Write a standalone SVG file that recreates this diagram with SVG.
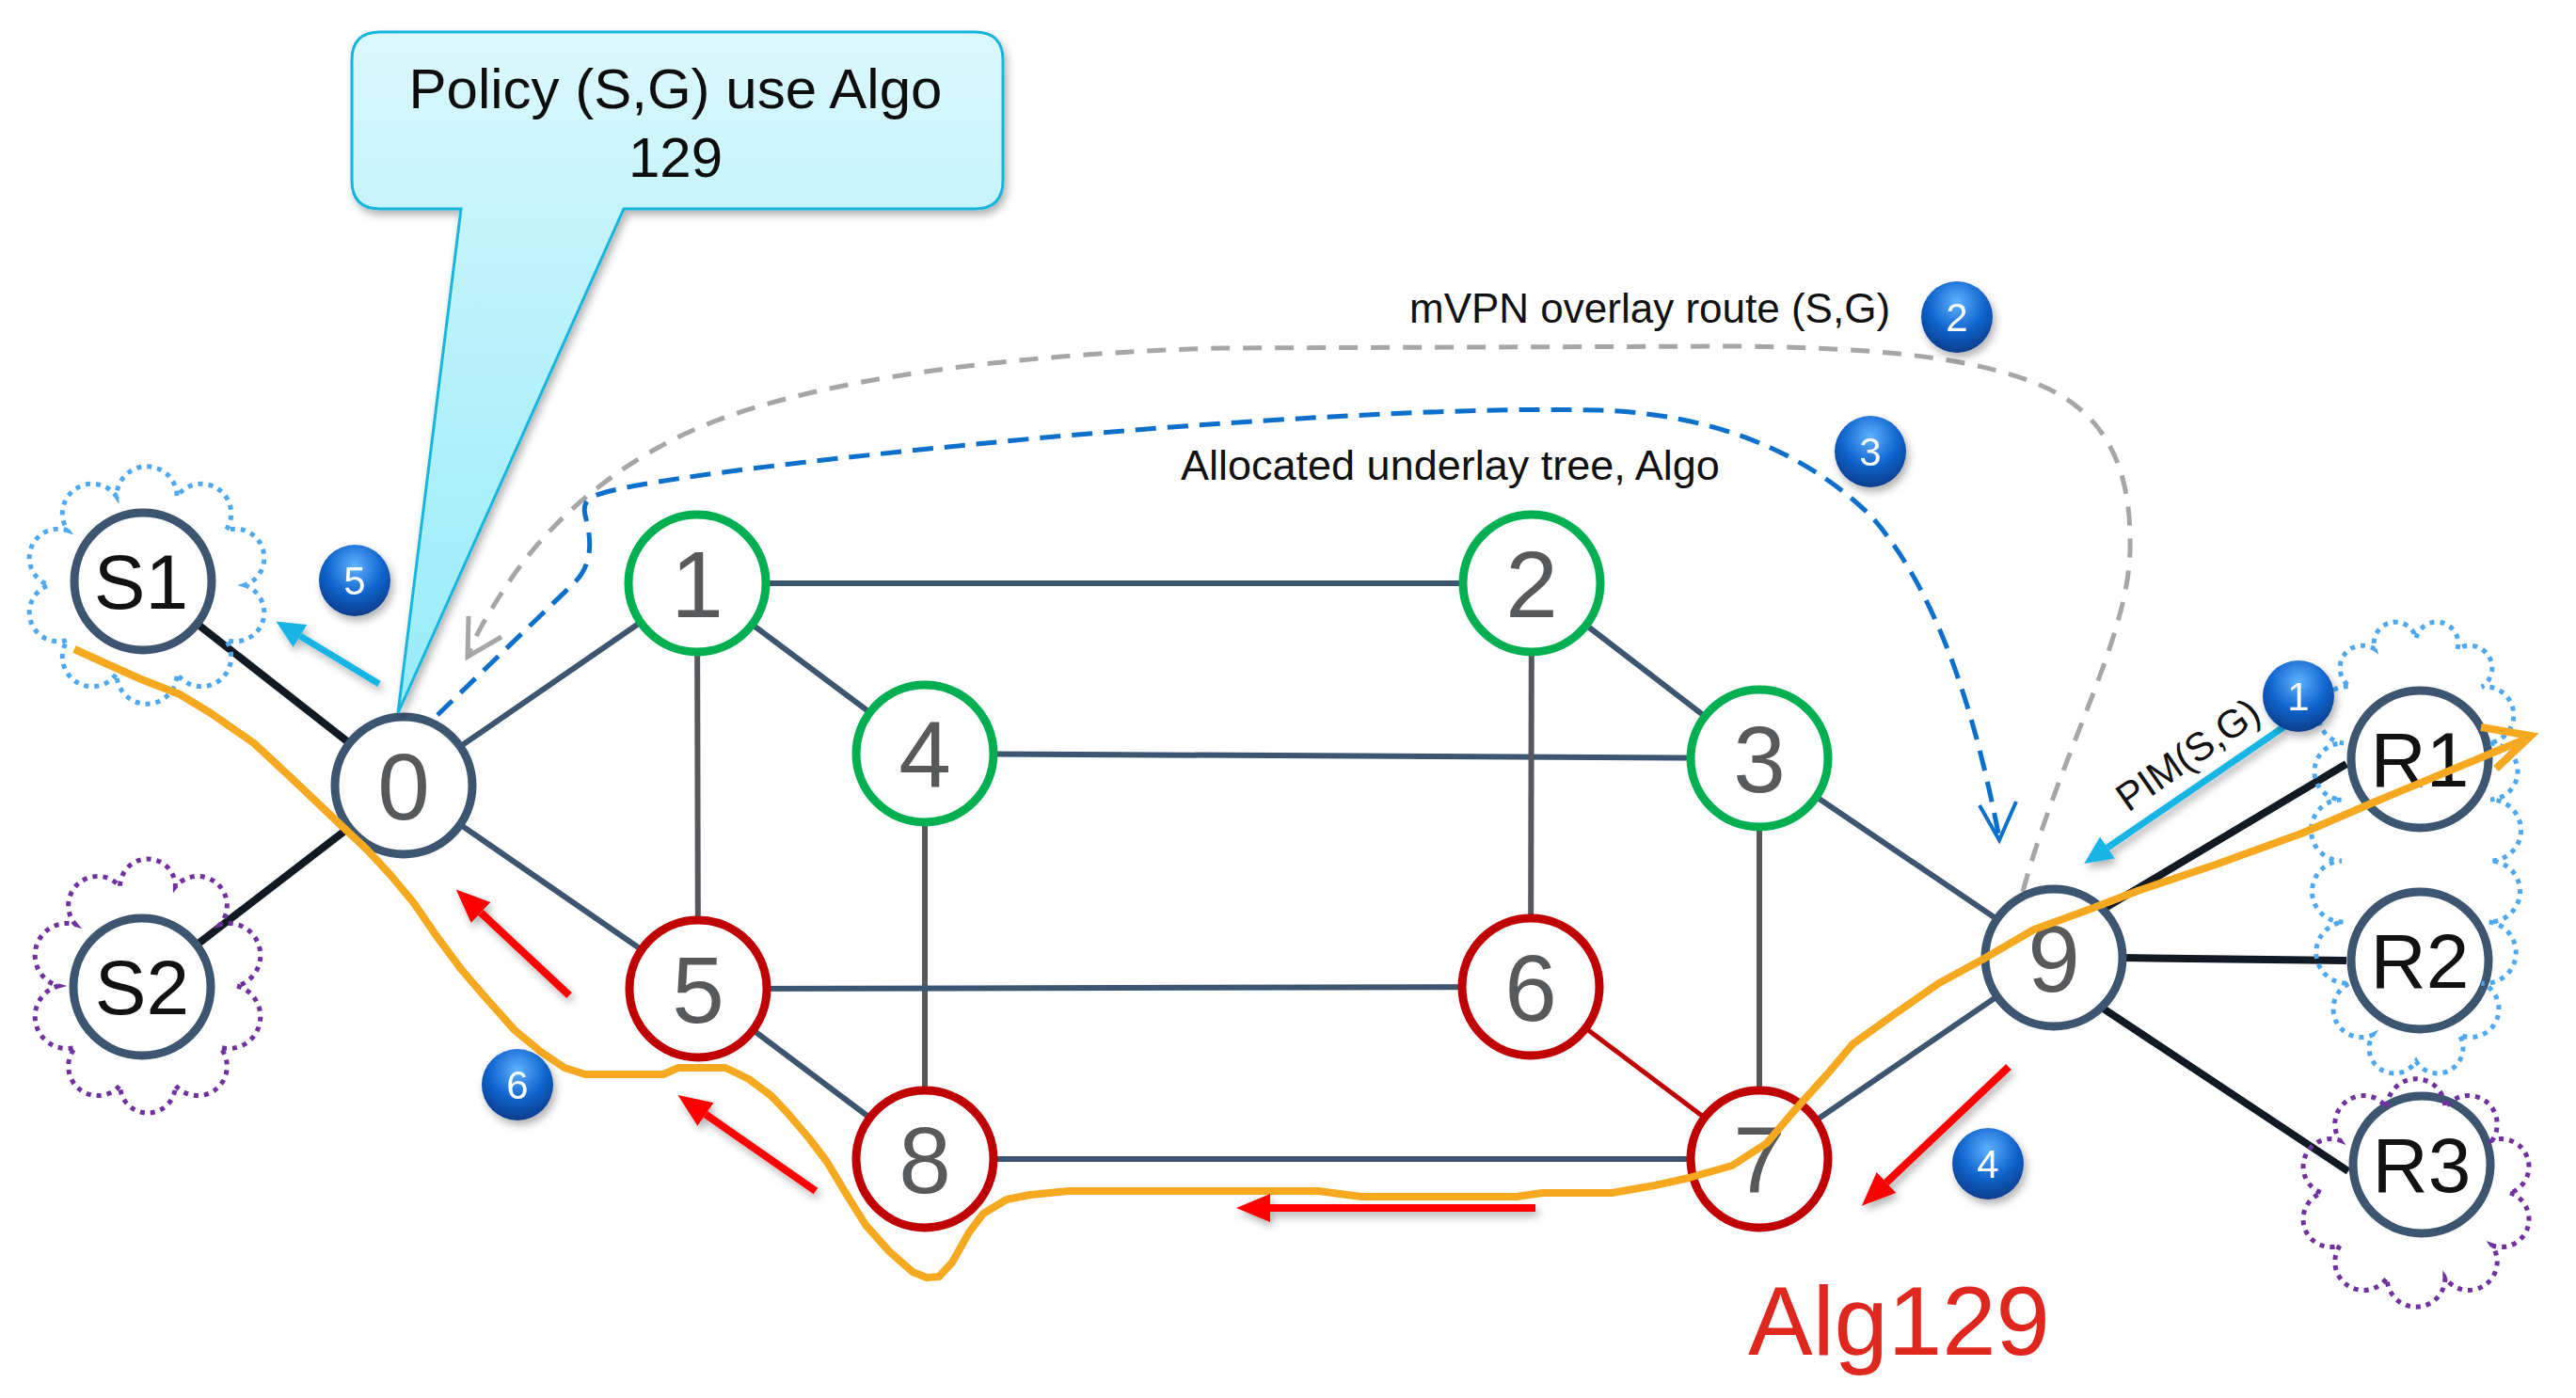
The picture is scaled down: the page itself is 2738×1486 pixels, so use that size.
<svg xmlns="http://www.w3.org/2000/svg" width="2738" height="1486" viewBox="0 0 2738 1486">
<defs>
<style>
.e{fill:none;stroke-linecap:butt}
.es{stroke:#3c5571;stroke-width:6}
.eg{stroke:#56585c;stroke-width:6}
.eb{stroke:#111a22;stroke-width:8}
.er{stroke:#c00000;stroke-width:5}
.node circle{fill:#fff;stroke-width:9}
.ns circle{stroke:#3c5571}
.ngr circle{stroke:#00b050}
.nr circle{stroke:#c00000}
.lbl{font-family:'Liberation Sans',Arial,sans-serif;font-size:100px;fill:#58595b;text-anchor:middle}
.lsr{font-size:82px;fill:#111}
.cloud{fill:none;stroke-width:5;stroke-dasharray:5 6}
.cb{stroke:#4ea8ef}
.cp{stroke:#7030a0}
.txt{font-family:'Liberation Sans',Arial,sans-serif;fill:#111}
.ball circle{fill:url(#bg)}
.ball text{font-family:'Liberation Sans',Arial,sans-serif;font-size:42px;fill:#fff;text-anchor:middle}
.ra{stroke:#ff0000;stroke-width:8;fill:none}
.ca{stroke:#18b5e5;stroke-width:7;fill:none}
</style>
<radialGradient id="bg" cx="50%" cy="30%" r="70%">
<stop offset="0" stop-color="#5fb2ff"/>
<stop offset="0.55" stop-color="#1266cf"/>
<stop offset="1" stop-color="#0a3d8c"/>
</radialGradient>
<linearGradient id="cg" x1="0" y1="0" x2="0" y2="1">
<stop offset="0" stop-color="#dcf8fd"/>
<stop offset="0.3" stop-color="#c2f3fb"/>
<stop offset="1" stop-color="#96ecf9"/>
</linearGradient>
<filter id="sh" x="-20%" y="-20%" width="140%" height="140%">
<feDropShadow dx="3" dy="5" stdDeviation="4" flood-color="#000" flood-opacity="0.3"/>
</filter>
<marker id="mr" markerUnits="userSpaceOnUse" markerWidth="36" markerHeight="30" refX="0" refY="15" orient="auto">
<path d="M0,0 L36,15 L0,30 Z" fill="#ff0000"/>
</marker>
<marker id="mc" markerUnits="userSpaceOnUse" markerWidth="30" markerHeight="28" refX="0" refY="14" orient="auto">
<path d="M0,0 L30,14 L0,28 Z" fill="#18b5e5"/>
</marker>
</defs>
<rect width="2738" height="1486" fill="#fff"/>

<g id="connectors">
<line class="e eb" x1="152" y1="618" x2="429" y2="835"/>
<line class="e eb" x1="151" y1="1049" x2="429" y2="835"/>
<line class="e es" x1="429" y1="835" x2="741" y2="620"/>
<line class="e es" x1="429" y1="835" x2="742" y2="1051"/>
<line class="e es" x1="741" y1="620" x2="1628" y2="620"/>
<line class="e es" x1="741" y1="620" x2="983" y2="801"/>
<line class="e eg" x1="741" y1="620" x2="742" y2="1051"/>
<line class="e es" x1="983" y1="801" x2="1870" y2="806"/>
<line class="e eg" x1="983" y1="801" x2="983" y2="1232"/>
<line class="e es" x1="1628" y1="620" x2="1870" y2="806"/>
<line class="e eg" x1="1628" y1="620" x2="1627" y2="1049"/>
<line class="e eg" x1="1870" y1="806" x2="1870" y2="1232"/>
<line class="e es" x1="1870" y1="806" x2="2183" y2="1018"/>
<line class="e es" x1="742" y1="1051" x2="1627" y2="1049"/>
<line class="e es" x1="742" y1="1051" x2="983" y2="1232"/>
<line class="e er" x1="1627" y1="1049" x2="1870" y2="1232"/>
<line class="e es" x1="983" y1="1232" x2="1870" y2="1232"/>
<line class="e es" x1="1870" y1="1232" x2="2183" y2="1018"/>
<line class="e eb" x1="2236" y1="966" x2="2494" y2="812"/>
<line class="e eb" x1="2256" y1="1018" x2="2494" y2="1021"/>
<line class="e eb" x1="2234" y1="1071" x2="2496" y2="1245"/>
<path id="overlay-route" d="M2150,948 C2190,800 2262,680 2264,585 C2266,500 2240,440 2170,410 C2100,380 2000,370 1850,368 L1300,370 C1100,375 850,400 720,465 C640,505 580,560 540,620 C520,650 505,675 498,696" fill="none" stroke="#a6a6a6" stroke-width="5" stroke-dasharray="20 14"/>
<polyline points="498,655 497,698 533,677" fill="none" stroke="#a6a6a6" stroke-width="5"/>
<path id="underlay-tree" d="M465,760 L610,620 C632,598 628,570 622,548 C618,530 630,527 648,522 C720,505 900,485 1100,466 C1300,448 1550,432 1700,436 C1820,440 1920,480 1990,550 C2060,630 2100,760 2125,891" fill="none" stroke="#0b6fcc" stroke-width="5" stroke-dasharray="22 12"/>
<polyline points="2104,856 2125,893 2143,852" fill="none" stroke="#0b6fcc" stroke-width="4"/>
</g>

<g id="node-S1" class="node ns"><circle cx="152" cy="618" r="73"/><text class="lbl lsr" x="150" y="647">S1</text></g>
<g id="node-S2" class="node ns"><circle cx="151" cy="1049" r="73"/><text class="lbl lsr" x="151" y="1078">S2</text></g>
<g id="node-0" class="node ns"><circle cx="429" cy="835" r="73"/><text class="lbl" x="429" y="871">0</text></g>
<g id="node-1" class="node ngr"><circle cx="741" cy="620" r="73"/><text class="lbl" x="741" y="656">1</text></g>
<g id="node-2" class="node ngr"><circle cx="1628" cy="620" r="73"/><text class="lbl" x="1628" y="656">2</text></g>
<g id="node-4" class="node ngr"><circle cx="983" cy="801" r="73"/><text class="lbl" x="983" y="837">4</text></g>
<g id="node-3" class="node ngr"><circle cx="1870" cy="806" r="73"/><text class="lbl" x="1870" y="842">3</text></g>
<g id="node-5" class="node nr"><circle cx="742" cy="1051" r="73"/><text class="lbl" x="742" y="1087">5</text></g>
<g id="node-6" class="node nr"><circle cx="1627" cy="1049" r="73"/><text class="lbl" x="1627" y="1085">6</text></g>
<g id="node-8" class="node nr"><circle cx="983" cy="1232" r="73"/><text class="lbl" x="983" y="1268">8</text></g>
<g id="node-7" class="node nr"><circle cx="1870" cy="1232" r="73"/><text class="lbl" x="1870" y="1268">7</text></g>
<g id="node-9" class="node ns"><circle cx="2183" cy="1018" r="73"/><text class="lbl" x="2183" y="1054">9</text></g>
<g id="node-R1" class="node ns"><circle cx="2572" cy="807" r="73"/><text class="lbl lsr" x="2572" y="836">R1</text></g>
<g id="node-R2" class="node ns"><circle cx="2572" cy="1021" r="73"/><text class="lbl lsr" x="2572" y="1050">R2</text></g>
<g id="node-R3" class="node ns"><circle cx="2574" cy="1238" r="73"/><text class="lbl lsr" x="2574" y="1267">R3</text></g>

<g id="clouds">
<path class="cloud cb" d="M260,622 A1,1 0 0 1 240.1,680.2 A1,1 0 0 1 188.1,716.1 A1,1 0 0 1 123.9,716.1 A1,1 0 0 1 71.9,680.2 A1,1 0 0 1 52,622 A1,1 0 0 1 71.9,563.8 A1,1 0 0 1 123.9,527.9 A1,1 0 0 1 188.1,527.9 A1,1 0 0 1 240.1,563.8 A1,1 0 0 1 260,622 Z"/>
<path class="cloud cp" d="M252,1048 A1,1 0 0 1 233.9,1113.3 A1,1 0 0 1 186.4,1153.6 A1,1 0 0 1 127.6,1153.6 A1,1 0 0 1 80.1,1113.3 A1,1 0 0 1 62,1048 A1,1 0 0 1 80.1,982.7 A1,1 0 0 1 127.6,942.4 A1,1 0 0 1 186.4,942.4 A1,1 0 0 1 233.9,982.7 A1,1 0 0 1 252,1048 Z"/>
<path class="cloud cb" d="M2568,678 A1,1 0 0 1 2612,690 A1,1 0 0 1 2638,730 A1,1 0 0 1 2645,790 A1,1 0 0 1 2647,850 A1,1 0 0 1 2647,915 A1,1 0 0 1 2645,980 A1,1 0 0 1 2638,1045 A1,1 0 0 1 2614,1100 A1,1 0 0 1 2568,1128 A1,1 0 0 1 2522,1100 A1,1 0 0 1 2498,1045 A1,1 0 0 1 2491,980 A1,1 0 0 1 2489,915 A1,1 0 0 1 2489,850 A1,1 0 0 1 2491,790 A1,1 0 0 1 2498,730 A1,1 0 0 1 2524,690 A1,1 0 0 1 2568,678 Z"/>
<path class="cloud cp" d="M2668,1268 A1,1 0 0 1 2648.9,1323.9 A1,1 0 0 1 2598.9,1358.3 A1,1 0 0 1 2537.1,1358.3 A1,1 0 0 1 2487.1,1323.9 A1,1 0 0 1 2468,1268 A1,1 0 0 1 2487.1,1212.1 A1,1 0 0 1 2537.1,1177.7 A1,1 0 0 1 2598.9,1177.7 A1,1 0 0 1 2648.9,1212.1 A1,1 0 0 1 2668,1268 Z"/>
</g>

<g id="callout" filter="url(#sh)">
<path d="M404,34 H1036 Q1066,34 1066,64 V192 Q1066,222 1036,222 H663 L423,758 L490,222 H404 Q374,222 374,192 V64 Q374,34 404,34 Z" fill="url(#cg)" stroke="#19b5de" stroke-width="3"/>
<text class="txt" x="718" y="115" font-size="60" text-anchor="middle">Policy (S,G) use Algo</text>
<text class="txt" x="718" y="188" font-size="60" text-anchor="middle">129</text>
</g>

<g id="flow-path">
<path d="M79,690 L112,705 L150,722 L191,738 L224,758 L270,790 L315,832 L357,872 L390,903 L415,930 L440,960 L464,995 L490,1030 L514,1058 L547,1095 L575,1118 L600,1135 L622,1142 L705,1142 L721,1135 L771,1135 L796,1147 L820,1165 L837,1183 L860,1210 L879,1235 L900,1270 L920,1302 L945,1330 L970,1352 L985,1358 L998,1357 L1012,1342 L1030,1310 L1045,1290 L1070,1275 L1095,1270 L1136,1266 L1401,1266 L1447,1272 L1612,1272 L1639,1268 L1713,1268 L1759,1260 L1795,1252 L1841,1239 L1878,1215 L1905,1183 L1942,1142 L1969,1110 L2015,1077 L2061,1045 L2107,1020 L2162,988 L2217,968 L2272,947 L2355,919 L2446,886 L2525,852 L2688,784" fill="none" stroke="#f6a81f" stroke-width="8" stroke-linejoin="round"/>
<polyline points="2637,773 2690,782 2653,817" fill="none" stroke="#f6a81f" stroke-width="8" stroke-linejoin="miter"/>
</g>

<g id="arrows" filter="url(#sh)">
<line class="ra" x1="605" y1="1058" x2="511" y2="970" marker-end="url(#mr)"/>
<line class="ra" x1="867" y1="1266" x2="750" y2="1184.5" marker-end="url(#mr)"/>
<line class="ra" x1="1632" y1="1284" x2="1350" y2="1284" stroke-width="11" marker-end="url(#mr)"/>
<line class="ra" x1="2135" y1="1134" x2="2005" y2="1257" marker-end="url(#mr)"/>
<line class="ca" x1="403" y1="727" x2="319" y2="676" marker-end="url(#mc)"/>
<line class="ca" x1="2427" y1="773" x2="2240" y2="901" marker-end="url(#mc)"/>
</g>

<g id="labels">
<text class="txt" x="1498" y="343" font-size="44">mVPN overlay route (S,G)</text>
<text class="txt" x="1255" y="510" font-size="45">Allocated underlay tree, Algo</text>
<text class="txt" x="2262" y="864" font-size="42" transform="rotate(-35 2262 864)">PIM(S,G)</text>
<text x="1858" y="1440" font-family="'Liberation Sans',Arial,sans-serif" font-size="103" fill="#e0271e">Alg129</text>
</g>

<g id="steps" filter="url(#sh)">
<g class="ball" id="step-1"><circle cx="2443" cy="740" r="38"/><text x="2443" y="755">1</text></g>
<g class="ball" id="step-2"><circle cx="2080" cy="337" r="38"/><text x="2080" y="352">2</text></g>
<g class="ball" id="step-3"><circle cx="1988" cy="480" r="38"/><text x="1988" y="495">3</text></g>
<g class="ball" id="step-4"><circle cx="2113" cy="1237" r="38"/><text x="2113" y="1252">4</text></g>
<g class="ball" id="step-5"><circle cx="377" cy="617" r="38"/><text x="377" y="632">5</text></g>
<g class="ball" id="step-6"><circle cx="550" cy="1153" r="38"/><text x="550" y="1168">6</text></g>
</g>
</svg>
